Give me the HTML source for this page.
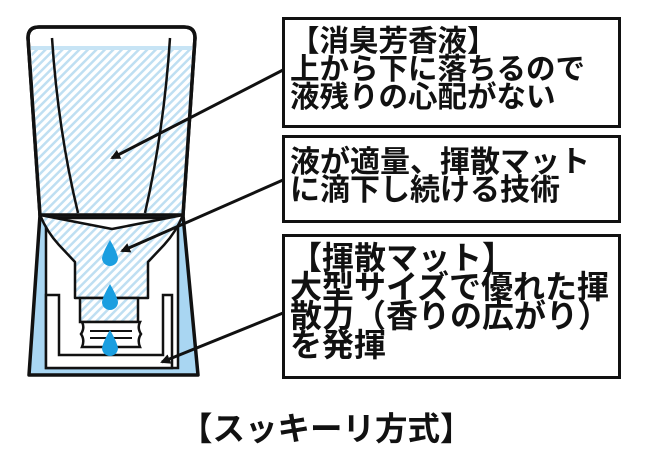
<!DOCTYPE html>
<html><head><meta charset="utf-8"><style>
body{margin:0;background:#fff;width:650px;height:456px;overflow:hidden;position:relative;font-family:"Liberation Sans","Noto Sans CJK JP",sans-serif;font-weight:bold;color:#111}
.box{position:absolute;border:3px solid #111;box-sizing:border-box;background:#fff}
.t{position:absolute;white-space:nowrap;line-height:28px}
</style></head><body>
<svg width="650" height="456" style="position:absolute;left:0;top:0">
<defs>
<pattern id="h" width="6" height="6" patternUnits="userSpaceOnUse" patternTransform="rotate(45)">
<rect width="6" height="6" fill="#fff"/><rect width="2.5" height="6" fill="#bfdff2"/>
</pattern>
<marker id="a" markerWidth="10" markerHeight="10" refX="8" refY="5" orient="auto" markerUnits="userSpaceOnUse"><path d="M0,0 L10,5 L0,10 Z" fill="#111"/></marker>
</defs>
<path d="M40,215 L183,215 L198,375 L29,375 Z" fill="#a9d6f2" stroke="#111" stroke-width="3.5" stroke-linejoin="round"/>
<rect x="46" y="218" width="132" height="150" fill="#fff" stroke="#111" stroke-width="2.5"/>
<path d="M46,295 L59,295 L59,355 L163,355 L163,295 L172,295 L172,368 L46,368 Z" fill="#fff" stroke="#111" stroke-width="2.5"/>
<path d="M28,38 Q28,27 39,27 L184,27 Q195,27 195,38 L183,215 L40,215 Z" fill="#fff" stroke="#111" stroke-width="3.5" stroke-linejoin="round"/>
<path d="M31,46 L192,46 L183,215 L40,215 Z" fill="url(#h)"/>
<rect x="31" y="46" width="161" height="4" fill="#c7e4f5"/>
<path d="M28,38 Q28,27 39,27 L184,27 Q195,27 195,38 L183,215 L40,215 Z" fill="none" stroke="#111" stroke-width="3.5" stroke-linejoin="round"/>
<path d="M52,38 Q58,130 78,213" fill="none" stroke="#111" stroke-width="2.5"/>
<path d="M170,38 Q164,130 145,213" fill="none" stroke="#111" stroke-width="2.5"/>
<path d="M40,215 L112,229 L183,215 Q176,232 164,245 L148,262 L148,298 L75,298 L75,262 L59,245 Q47,232 40,215 Z" fill="url(#h)" stroke="#111" stroke-width="2.5" stroke-linejoin="round"/>
<rect x="80" y="298" width="58" height="24" fill="url(#h)" stroke="#111" stroke-width="2.5"/>
<path d="M82,322 L140,322 Q137,328 141,334 Q137,340 140,347 L82,347 Q85,340 81,334 Q85,328 82,322 Z" fill="#fff" stroke="#111" stroke-width="2.5"/>
<line x1="90" y1="331" x2="132" y2="331" stroke="#111" stroke-width="2"/>
<line x1="90" y1="338" x2="132" y2="338" stroke="#111" stroke-width="2"/>
<g fill="#1a9ee0">
<path d="M110,240 Q103,252 102,258 A8,8 0 0 0 118,258 Q117,252 110,240 Z"/>
<path d="M110,284 Q103,296 102,302 A8,8 0 0 0 118,302 Q117,296 110,284 Z"/>
<path d="M110,330 Q103,342 102,348 A8,8 0 0 0 118,348 Q117,342 110,330 Z"/>
</g>
<line x1="283" y1="70" x2="112" y2="158" stroke="#111" stroke-width="3" marker-end="url(#a)"/>
<line x1="283" y1="180" x2="122" y2="251" stroke="#111" stroke-width="3" marker-end="url(#a)"/>
<line x1="283" y1="313" x2="162" y2="362" stroke="#111" stroke-width="3" marker-end="url(#a)"/>
</svg>
<div class="box" style="left:282px;top:17px;width:339px;height:111px"></div>
<div class="t" style="left:290px;top:28px;font-size:29.5px">【消臭芳香液】<br>上から下に落ちるので<br>液残りの心配がない</div>
<div class="box" style="left:282px;top:135px;width:339px;height:88px"></div>
<div class="t" style="left:290px;top:149px;font-size:30px;line-height:28px">液が適量、揮散マット<br>に滴下し続ける技術</div>
<div class="box" style="left:282px;top:234px;width:339px;height:145px"></div>
<div class="t" style="left:290px;top:244px;font-size:32px;line-height:29px">【揮散マット】<br>大型サイズで優れた揮<br>散力（香りの広がり）<br>を発揮</div>
<div class="t" style="left:180px;top:411px;font-size:32.5px;line-height:36px">【スッキーリ方式】</div>
</body></html>
